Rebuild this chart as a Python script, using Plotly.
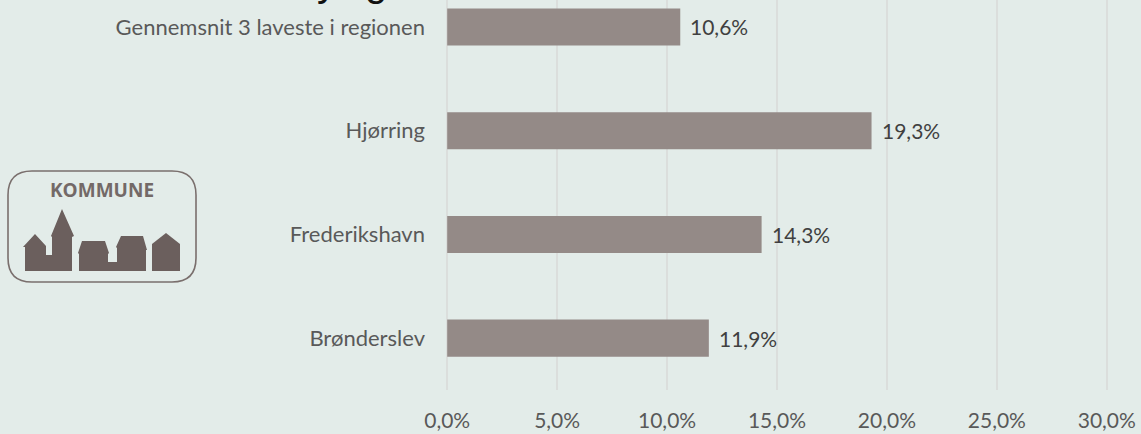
import plotly.graph_objects as go

categories = ["Brønderslev", "Frederikshavn", "Hjørring", "Gennemsnit 3 laveste i regionen"]
values = [11.9, 14.3, 19.3, 10.6]
value_labels = ["11,9%", "14,3%", "19,3%", "10,6%"]
tick_values = [0, 5, 10, 15, 20, 25, 30]
tick_labels = ["0,0%", "5,0%", "10,0%", "15,0%", "20,0%", "25,0%", "30,0%"]

W, H = 1141, 434
ML, MR, MT, MB = 445, 32, 0, 44
PW, PH = W - ML - MR, H - MT - MB
BG = "#E3ECE9"
BAR = "#948A87"
LOGO = "#6B5F5D"
FONT = "Lato, Open Sans, sans-serif"

def px(x):
    return (x - ML) / PW

def py(y):
    return 1 - (y - MT) / PH

def path(points):
    return "M " + " L ".join(f"{px(x):.5f},{py(y):.5f}" for x, y in points) + " Z"

# Logo drawn in page pixels
church = [(25, 271), (25, 247), (23, 247), (35, 234), (46, 246), (46, 255), (52, 255), (52, 237), (51, 236), (62, 209), (74, 236), (72, 237), (72, 271)]
house2 = [(79, 271), (79, 254), (78, 253), (82, 241), (105, 241), (109, 253), (108, 254), (108, 262), (117, 262), (117, 248), (116, 247), (121, 236), (143, 236), (147, 250), (146, 250), (146, 271)]
house3 = [(152, 271), (152, 244), (166, 233), (180, 244), (180, 271)]

r = 24
l, t, rr, b = 8, 171, 196, 282
rounded = (f"M {px(l + r):.5f},{py(t):.5f} L {px(rr - r):.5f},{py(t):.5f} "
           f"Q {px(rr):.5f},{py(t):.5f} {px(rr):.5f},{py(t + r):.5f} "
           f"L {px(rr):.5f},{py(b - r):.5f} Q {px(rr):.5f},{py(b):.5f} {px(rr - r):.5f},{py(b):.5f} "
           f"L {px(l + r):.5f},{py(b):.5f} Q {px(l):.5f},{py(b):.5f} {px(l):.5f},{py(b - r):.5f} "
           f"L {px(l):.5f},{py(t + r):.5f} Q {px(l):.5f},{py(t):.5f} {px(l + r):.5f},{py(t):.5f} Z")
shapes = [dict(type="path", xref="paper", yref="paper", path=rounded, line=dict(color="#7A6F6D", width=1.6), layer="above")]
for poly in (church, house2, house3):
    shapes.append(dict(type="path", xref="paper", yref="paper", path=path(poly),
                       fillcolor=LOGO, line=dict(width=0), layer="above"))

annotations = [
    dict(text="<b>KOMMUNE</b>", x=px(102), y=py(189.5), xref="paper", yref="paper", xanchor="center", yanchor="middle",
         showarrow=False, font=dict(family="Open Sans", size=19, color="#736967")),
]
for letter, lx in (("y", 327), ("g", 376)):
    annotations.append(dict(text=letter, x=px(lx), y=py(5), xref="paper", yref="paper", xanchor="center", yanchor="bottom",
                            showarrow=False, borderpad=0, font=dict(family="Liberation Sans", size=40, color="#111111")))
for cat, val, lab in zip(categories, values, value_labels):
    annotations.append(dict(text=lab, x=val, y=cat, xref="x", yref="y", xanchor="left", yanchor="middle", xshift=8,
                            showarrow=False, font=dict(family=FONT, size=21, color="#404040")))

fig = go.Figure(go.Bar(
    y=categories, x=values, orientation="h", width=0.357,
    marker=dict(color=BAR, line=dict(width=0)),
    hoverinfo="skip",
))
fig.update_layout(
    width=W, height=H, autosize=False,
    margin=dict(l=ML, r=MR, t=MT, b=MB, pad=0),
    paper_bgcolor=BG, plot_bgcolor=BG, showlegend=False,
    shapes=shapes,
    annotations=annotations,
)
fig.update_xaxes(range=[-0.1, 30.1], tickvals=tick_values, ticktext=tick_labels,
                 showgrid=True, gridcolor="#DBDEDC", gridwidth=1.5, zeroline=False, showline=False,
                 ticks="", tickfont=dict(family=FONT, size=21, color="#595959"), ticklabelstandoff=16)
fig.update_yaxes(range=[-0.5, 3.26], type="category", categoryorder="array", categoryarray=categories,
                 showgrid=False, zeroline=False, showline=False, ticks="",
                 tickfont=dict(family=FONT, size=22, color="#595959"), ticklabelstandoff=19)
fig.write_html("out.html", config=dict(displayModeBar=False), post_script="document.documentElement.style.margin='0';document.body.style.margin='0';document.body.style.overflow='hidden';document.body.style.background='#E3ECE9';")
